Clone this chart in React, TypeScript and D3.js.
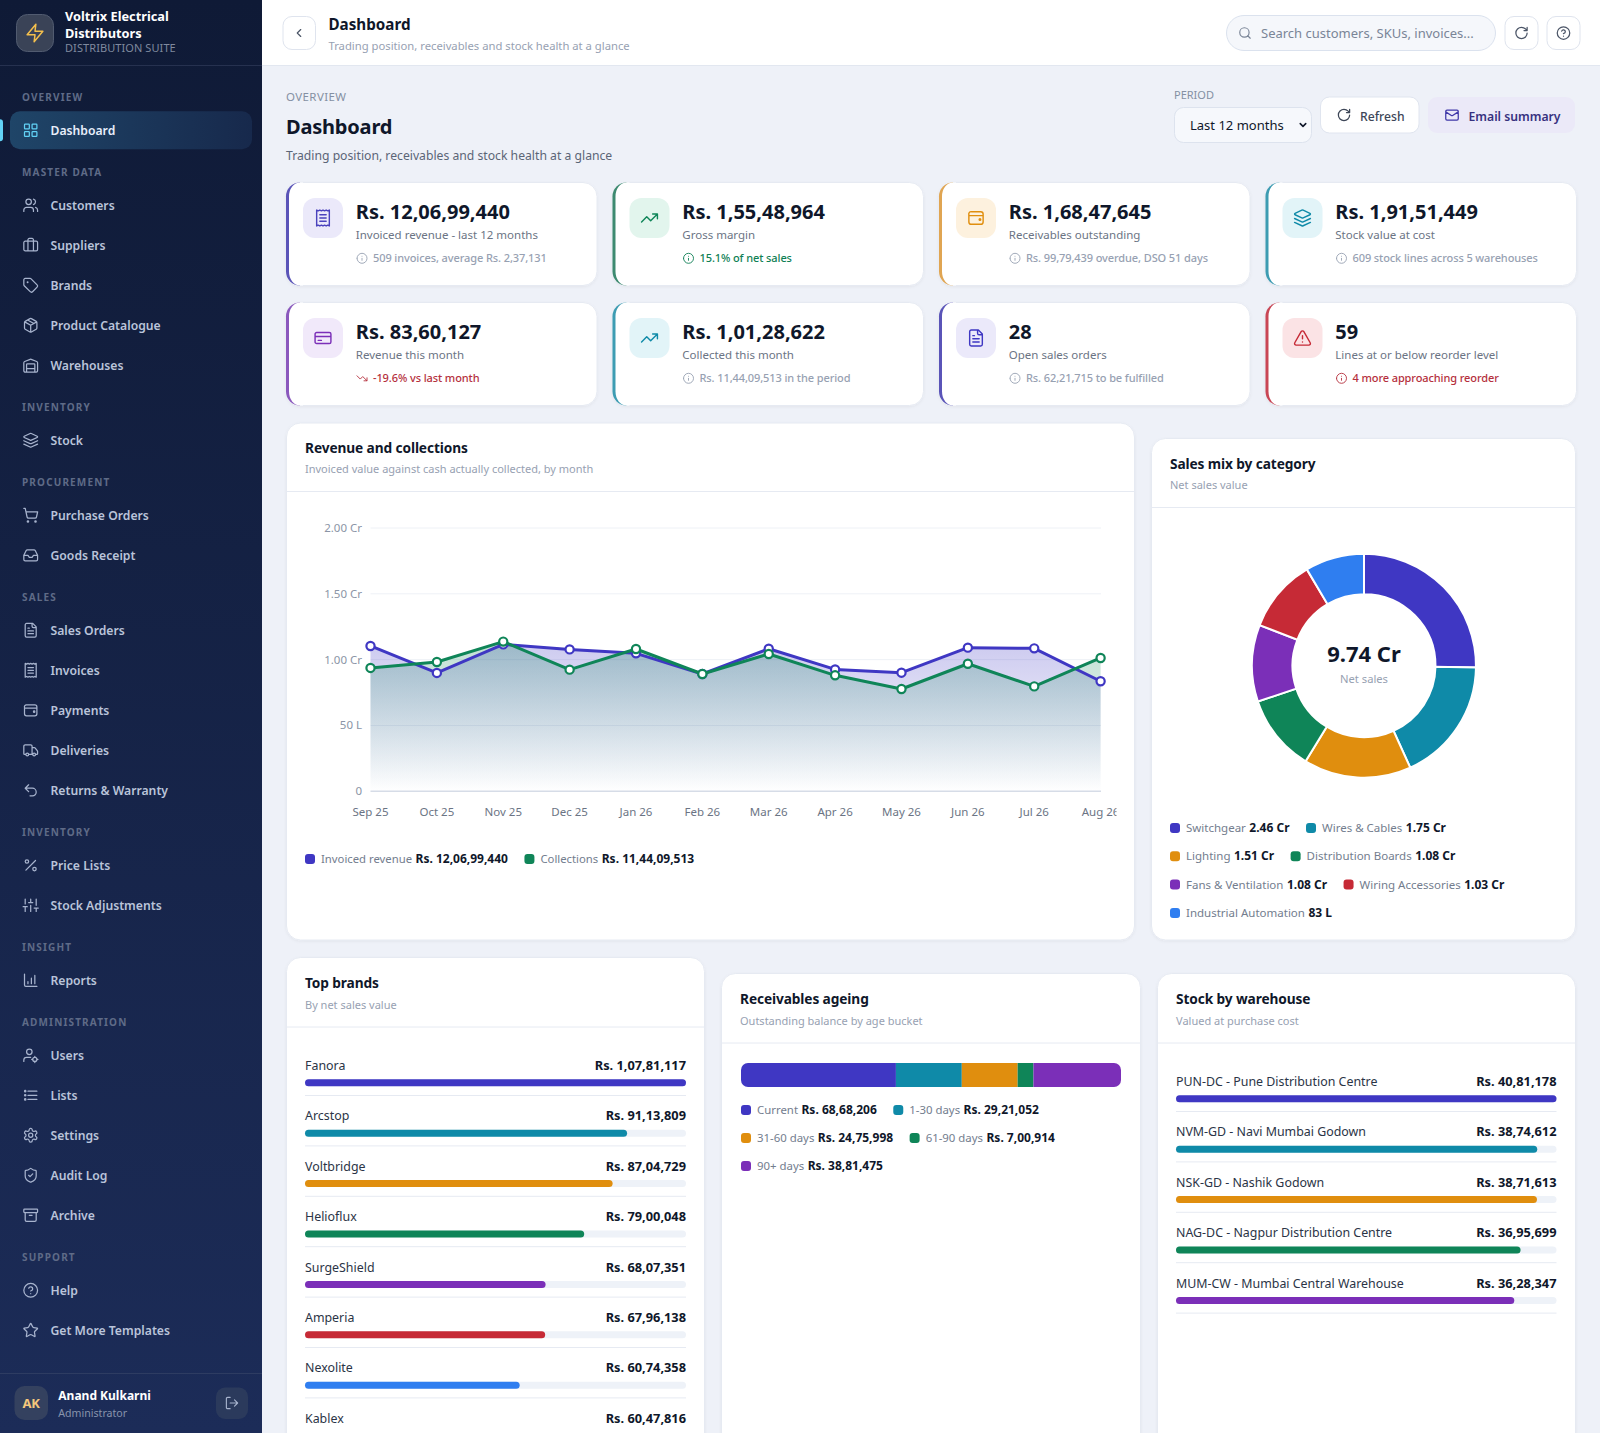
import React from "react";
import * as d3 from "d3";

// ---- data ----
const months = ["Sep 25", "Oct 25", "Nov 25", "Dec 25", "Jan 26", "Feb 26", "Mar 26", "Apr 26", "May 26", "Jun 26", "Jul 26", "Aug 26"];
const invoiced = [11040000, 8990000, 11160000, 10780000, 10480000, 8910000, 10830000, 9260000, 9010000, 10910000, 10860000, 8360127];
const collections = [9370000, 9820000, 11370000, 9240000, 10810000, 8910000, 10430000, 8810000, 7770000, 9690000, 7970000, 10128622];
const invoicedTotal = 120699440;
const collectionsTotal = 114409513;
const yTicks = [0, 5000000, 10000000, 15000000, 20000000];
const yTickLabels = ["0", "50 L", "1.00 Cr", "1.50 Cr", "2.00 Cr"];

const categoryNames = ["Switchgear", "Wires & Cables", "Lighting", "Distribution Boards", "Fans & Ventilation", "Wiring Accessories", "Industrial Automation"];
const categoryValues = [24600000, 17500000, 15100000, 10800000, 10800000, 10300000, 8300000];
const netSales = "9.74 Cr";

const brandNames = ["Fanora", "Arcstop", "Voltbridge", "Helioflux", "SurgeShield", "Amperia", "Nexolite", "Kablex"];
const brandValues = [10781117, 9113809, 8704729, 7900048, 6807351, 6796138, 6074358, 6047816];

const ageingNames = ["Current", "1-30 days", "31-60 days", "61-90 days", "90+ days"];
const ageingValues = [6868206, 2921052, 2475998, 700914, 3881475];

const warehouseNames = ["PUN-DC - Pune Distribution Centre", "NVM-GD - Navi Mumbai Godown", "NSK-GD - Nashik Godown", "NAG-DC - Nagpur Distribution Centre", "MUM-CW - Mumbai Central Warehouse"];
const warehouseValues = [4081178, 3874612, 3871613, 3695699, 3628347];

const kpiValues = ["Rs. 12,06,99,440", "Rs. 1,55,48,964", "Rs. 1,68,47,645", "Rs. 1,91,51,449", "Rs. 83,60,127", "Rs. 1,01,28,622", "28", "59"];
const kpiLabels = ["Invoiced revenue - last 12 months", "Gross margin", "Receivables outstanding", "Stock value at cost", "Revenue this month", "Collected this month", "Open sales orders", "Lines at or below reorder level"];
const kpiNotes = ["509 invoices, average Rs. 2,37,131", "15.1% of net sales", "Rs. 99,79,439 overdue, DSO 51 days", "609 stock lines across 5 warehouses", "-19.6% vs last month", "Rs. 11,44,09,513 in the period", "Rs. 62,21,715 to be fulfilled", "4 more approaching reorder"];

const navSections: [string, [string, string][]][] = [
  ["OVERVIEW", [["Dashboard", "grid"]]],
  ["MASTER DATA", [["Customers", "users"], ["Suppliers", "briefcase"], ["Brands", "tag"], ["Product Catalogue", "package"], ["Warehouses", "warehouse"]]],
  ["INVENTORY", [["Stock", "layers"]]],
  ["PROCUREMENT", [["Purchase Orders", "cart"], ["Goods Receipt", "inbox"]]],
  ["SALES", [["Sales Orders", "file"], ["Invoices", "receipt"], ["Payments", "wallet"], ["Deliveries", "truck"], ["Returns & Warranty", "undo"]]],
  ["INVENTORY", [["Price Lists", "percent"], ["Stock Adjustments", "sliders"]]],
  ["INSIGHT", [["Reports", "chart"]]],
  ["ADMINISTRATION", [["Users", "usercog"], ["Lists", "list"], ["Settings", "gear"], ["Audit Log", "shield"], ["Archive", "archive"]]],
  ["SUPPORT", [["Help", "help"], ["Get More Templates", "star"]]],
];

// ---- colours ----
const palette = ["#3f37c3", "#0f8aa8", "#e08e0e", "#0f8558", "#7b2fb8", "#c62a36", "#2f7ef0"];
const INK = "#0f172a";
const MUTED = "#97a1b2";
const LINE = "#e6eaf2";
const TRACK = "#eef2f8";
const NOTE_RED = "#b5303d";
const NOTE_GREEN = "#0f7f55";

const kpiStyles = [
  { accent: "#5a54b8", bg: "#ebe9fa", fg: "#4a42bd", icon: "receipt", note: MUTED, noteIcon: "info" },
  { accent: "#3d8a70", bg: "#e2f5ed", fg: "#0f8558", icon: "trendUp", note: NOTE_GREEN, noteIcon: "info" },
  { accent: "#e0a552", bg: "#fdf1de", fg: "#e08e0e", icon: "wallet", note: MUTED, noteIcon: "info" },
  { accent: "#3d9cb2", bg: "#e2f4f8", fg: "#0f8aa8", icon: "layers", note: MUTED, noteIcon: "info" },
  { accent: "#8a58bd", bg: "#f1e9fa", fg: "#7b2fb8", icon: "card", note: NOTE_RED, noteIcon: "trendDown" },
  { accent: "#3d9cb2", bg: "#e2f4f8", fg: "#0f8aa8", icon: "trendUp", note: MUTED, noteIcon: "info" },
  { accent: "#5a54b8", bg: "#ebe9fa", fg: "#3f37c3", icon: "file", note: MUTED, noteIcon: "info" },
  { accent: "#c94655", bg: "#fbe3e5", fg: "#c62a36", icon: "alert", note: NOTE_RED, noteIcon: "info" },
];

// ---- icons (24 unit stroke icons) ----
const ci = (cx: number, cy: number, r: number) => `M${cx - r} ${cy}a${r} ${r} 0 1 0 ${2 * r} 0a${r} ${r} 0 1 0 ${-2 * r} 0`;
const rr = (x: number, y: number, w: number, h: number, r: number) =>
  `M${x + r} ${y}h${w - 2 * r}a${r} ${r} 0 0 1 ${r} ${r}v${h - 2 * r}a${r} ${r} 0 0 1 ${-r} ${r}h${-(w - 2 * r)}a${r} ${r} 0 0 1 ${-r} ${-r}v${-(h - 2 * r)}a${r} ${r} 0 0 1 ${r} ${-r}z`;

const icons: Record<string, string> = {
  grid: rr(3, 3, 7, 7, 1) + rr(14, 3, 7, 7, 1) + rr(14, 14, 7, 7, 1) + rr(3, 14, 7, 7, 1),
  users: "M16 21v-2a4 4 0 0 0-4-4H6a4 4 0 0 0-4 4v2" + ci(9, 7, 4) + "M22 21v-2a4 4 0 0 0-3-3.87M16 3.13a4 4 0 0 1 0 7.75",
  briefcase: "M16 20V4a2 2 0 0 0-2-2h-4a2 2 0 0 0-2 2v16" + rr(2, 6, 20, 14, 2),
  tag: "M12.586 2.586A2 2 0 0 0 11.172 2H4a2 2 0 0 0-2 2v7.172a2 2 0 0 0 .586 1.414l8.704 8.704a2.426 2.426 0 0 0 3.42 0l6.58-6.58a2.426 2.426 0 0 0 0-3.42z" + ci(7.5, 7.5, 0.5),
  package: "M21 8a2 2 0 0 0-1-1.73l-7-4a2 2 0 0 0-2 0l-7 4A2 2 0 0 0 3 8v8a2 2 0 0 0 1 1.73l7 4a2 2 0 0 0 2 0l7-4A2 2 0 0 0 21 16ZM3.3 7l8.7 5 8.7-5M12 22V12M7.5 4.27l9 5.15",
  warehouse: "M22 8.35V20a2 2 0 0 1-2 2H4a2 2 0 0 1-2-2V8.35A2 2 0 0 1 3.26 6.5l8-3.2a2 2 0 0 1 1.48 0l8 3.2A2 2 0 0 1 22 8.35ZM6 17h12M6 22V11a1 1 0 0 1 1-1h10a1 1 0 0 1 1 1v11",
  layers: "M12.83 2.18a2 2 0 0 0-1.66 0L2.6 6.08a1 1 0 0 0 0 1.83l8.58 3.91a2 2 0 0 0 1.66 0l8.58-3.9a1 1 0 0 0 0-1.83ZM22 17.65l-9.17 4.16a2 2 0 0 1-1.66 0L2 17.65M22 12.65l-9.17 4.16a2 2 0 0 1-1.66 0L2 12.65",
  cart: ci(8, 21, 1) + ci(19, 21, 1) + "M2.05 2.05h2l2.66 12.42a2 2 0 0 0 2 1.58h9.78a2 2 0 0 0 1.95-1.57l1.65-7.43H5.12",
  inbox: "M22 12h-6l-2 3h-4l-2-3H2M5.45 5.11 2 12v6a2 2 0 0 0 2 2h16a2 2 0 0 0 2-2v-6l-3.45-6.89A2 2 0 0 0 16.76 4H7.24a2 2 0 0 0-1.79 1.11z",
  file: "M15 2H6a2 2 0 0 0-2 2v16a2 2 0 0 0 2 2h12a2 2 0 0 0 2-2V7ZM14 2v4a2 2 0 0 0 2 2h4M10 9H8M16 13H8M16 17H8",
  receipt: "M4 2v20l2-1 2 1 2-1 2 1 2-1 2 1 2-1 2 1V2l-2 1-2-1-2 1-2-1-2 1-2-1-2 1ZM16 8H8M16 12H8M16 16H8",
  wallet: "M3 8a3 3 0 0 1 3-4h12a3 3 0 0 1 3 3v10a3 3 0 0 1-3 3H6a3 3 0 0 1-3-3ZM3 9h18" + ci(17, 14, 1),
  truck: "M14 18V6a2 2 0 0 0-2-2H4a2 2 0 0 0-2 2v11a1 1 0 0 0 1 1h2M15 18H9M19 18h2a1 1 0 0 0 1-1v-3.65a1 1 0 0 0-.22-.624l-3.48-4.35A1 1 0 0 0 17.52 8H14" + ci(17, 18, 2) + ci(7, 18, 2),
  undo: "M9 14 4 9l5-5M4 9h10.5a5.5 5.5 0 0 1 5.5 5.5a5.5 5.5 0 0 1-5.5 5.5H11",
  percent: "M19 5 5 19" + ci(6.5, 6.5, 2.5) + ci(17.5, 17.5, 2.5),
  sliders: "M4 21v-7M4 10V3M12 21v-9M12 8V3M20 21v-5M20 12V3M1 14h6M9 8h6M17 16h6",
  chart: "M3 3v16a2 2 0 0 0 2 2h16M8 17v-3M13 17V9M18 17V5",
  usercog: ci(10, 7, 4) + "M2 21v-2a4 4 0 0 1 4-4h6" + ci(18, 18, 3) + "M18 13.5V15M18 21v1.5M13.5 18H15M21 18h1.5",
  list: "M8 6h13M8 12h13M8 18h13" + ci(4, 6, 1) + ci(4, 12, 1) + ci(4, 18, 1),
  gear: "M12.22 2h-.44a2 2 0 0 0-2 2v.18a2 2 0 0 1-1 1.73l-.43.25a2 2 0 0 1-2 0l-.15-.08a2 2 0 0 0-2.73.73l-.22.38a2 2 0 0 0 .73 2.73l.15.1a2 2 0 0 1 1 1.72v.51a2 2 0 0 1-1 1.74l-.15.09a2 2 0 0 0-.73 2.73l.22.38a2 2 0 0 0 2.73.73l.15-.08a2 2 0 0 1 2 0l.43.25a2 2 0 0 1 1 1.73V20a2 2 0 0 0 2 2h.44a2 2 0 0 0 2-2v-.18a2 2 0 0 1 1-1.73l.43-.25a2 2 0 0 1 2 0l.15.08a2 2 0 0 0 2.73-.73l.22-.39a2 2 0 0 0-.73-2.73l-.15-.08a2 2 0 0 1-1-1.74v-.5a2 2 0 0 1 1-1.74l.15-.09a2 2 0 0 0 .73-2.73l-.22-.38a2 2 0 0 0-2.73-.73l-.15.08a2 2 0 0 1-2 0l-.43-.25a2 2 0 0 1-1-1.73V4a2 2 0 0 0-2-2z" + ci(12, 12, 3),
  shield: "M20 13c0 5-3.5 7.5-7.66 8.95a1 1 0 0 1-.67-.01C7.5 20.5 4 18 4 13V6a1 1 0 0 1 1-1c2 0 4.5-1.2 6.24-2.72a1.17 1.17 0 0 1 1.52 0C14.51 3.81 17 5 19 5a1 1 0 0 1 1 1zM9 12l2 2 4-4",
  archive: rr(2, 3, 20, 5, 1) + "M4 8v11a2 2 0 0 0 2 2h12a2 2 0 0 0 2-2V8M10 12h4",
  help: ci(12, 12, 10) + "M9.09 9a3 3 0 0 1 5.83 1c0 2-3 3-3 3M12 17h.01",
  star: "M11.525 2.295a.53.53 0 0 1 .95 0l2.31 4.679a2.123 2.123 0 0 0 1.595 1.16l5.166.756a.53.53 0 0 1 .294.904l-3.736 3.638a2.123 2.123 0 0 0-.611 1.878l.882 5.14a.53.53 0 0 1-.771.56l-4.618-2.428a2.122 2.122 0 0 0-1.973 0L6.396 21.01a.53.53 0 0 1-.77-.56l.881-5.139a2.122 2.122 0 0 0-.611-1.879L2.16 9.795a.53.53 0 0 1 .294-.906l5.165-.755a2.122 2.122 0 0 0 1.597-1.16z",
  logout: "M9 21H5a2 2 0 0 1-2-2V5a2 2 0 0 1 2-2h4M16 17l5-5-5-5M21 12H9",
  zap: "M13 2 3 14h9l-1 8 10-12h-9l1-8z",
  back: "M15 18l-6-6 6-6",
  down: "M6 9l6 6 6-6",
  search: ci(11, 11, 8) + "M21 21l-4.3-4.3",
  refresh: "M21 12a9 9 0 1 1-9-9c2.52 0 4.93 1 6.74 2.74L21 8M21 3v5h-5",
  mail: rr(2, 4, 20, 16, 2) + "M22 7l-8.97 5.7a1.94 1.94 0 0 1-2.06 0L2 7",
  trendUp: "M22 7l-8.5 8.5-5-5L2 17M16 7h6v6",
  trendDown: "M22 17l-8.5-8.5-5 5L2 7M16 17h6v-6",
  card: rr(2, 5, 20, 14, 2) + "M2 10h20M6 15h4",
  alert: "M21.73 18l-8-14a2 2 0 0 0-3.48 0l-8 14A2 2 0 0 0 4 21h16a2 2 0 0 0 1.73-3M12 9v4M12 17h.01",
  info: ci(12, 12, 10) + "M12 16v-4M12 8h.01",
};

function Icon({ name, cx, cy, size, color, width = 2 }: { name: string; cx: number; cy: number; size: number; color: string; width?: number }) {
  const k = size / 24;
  return (
    <path
      d={icons[name]}
      transform={`translate(${cx - size / 2},${cy - size / 2}) scale(${k})`}
      fill="none"
      stroke={color}
      strokeWidth={width}
      strokeLinecap="round"
      strokeLinejoin="round"
    />
  );
}

// ---- helpers ----
const FONT = "'Noto Sans'";

const ctx = document.createElement("canvas").getContext("2d")!;
function textWidth(s: string, size: number, weight: number) {
  ctx.font = `${weight} ${size}px ${FONT}`;
  return ctx.measureText(s).width;
}

function inr(v: number) {
  const s = String(Math.round(v));
  if (s.length <= 3) return "Rs. " + s;
  const head = s.slice(0, -3).replace(/\B(?=(\d{2})+(?!\d))/g, ",");
  return "Rs. " + head + "," + s.slice(-3);
}

function crore(v: number) {
  return v >= 10000000 ? `${(v / 10000000).toFixed(2)} Cr` : `${Math.round(v / 100000)} L`;
}

function Card({ x, y, w, h }: { x: number; y: number; w: number; h: number }) {
  return <rect x={x} y={y} width={w} height={h} rx={14} fill="#fff" stroke={LINE} filter="url(#cardShadow)" />;
}

function CardHead({ x, y, w, title, sub }: { x: number; y: number; w: number; title: string; sub: string }) {
  return (
    <g>
      <text x={x + 18.5} y={y + 30} fontSize={13.7} fontWeight={700} letterSpacing={-0.1} fill={INK}>{title}</text>
      <text x={x + 18.5} y={y + 50.5} fontSize={11} fill={MUTED}>{sub}</text>
      <line x1={x} x2={x + w} y1={y + 69} y2={y + 69} stroke={LINE} />
    </g>
  );
}

// legend that wraps like the flex rows in the reference
function Legend({ items, x, y, maxW, rowH, size = 11.3 }: { items: { label: string; value: string; color: string }[]; x: number; y: number; maxW: number; rowH: number; size?: number }) {
  let cx = x;
  let cy = y;
  return (
    <g>
      {items.map((it, i) => {
        const w = 16 + textWidth(it.label, size, 400) + 3.5 + textWidth(it.value, 12, 700);
        if (cx > x && cx + w > x + maxW) {
          cx = x;
          cy += rowH;
        }
        const px = cx;
        cx += w + 16.5;
        return (
          <g key={i}>
            <rect x={px} y={cy - 9} width={10} height={10} rx={3} fill={it.color} />
            <text x={px + 16} y={cy} fontSize={size} fill="#737d8e">
              {it.label}
              <tspan dx={3.5} fontSize={12} fontWeight={700} fill={INK}>{it.value}</tspan>
            </text>
          </g>
        );
      })}
    </g>
  );
}

function BarList({ names, values, x, w, y }: { names: string[]; values: number[]; x: number; w: number; y: number }) {
  const sx = d3.scaleLinear().domain([0, d3.max(values)!]).range([0, w]);
  const pitch = 50.4;
  return (
    <g>
      {names.map((n, i) => {
        const base = y + i * pitch;
        return (
          <g key={n}>
            <text x={x} y={base} fontSize={12.4} fill="#2b3446">{n}</text>
            <text x={x + w} y={base} fontSize={12.8} fontWeight={700} fill={INK} textAnchor="end">{inr(values[i])}</text>
            <rect x={x} y={base + 9.3} width={w} height={7} rx={3.5} fill={TRACK} />
            <rect x={x} y={base + 9.3} width={sx(values[i])} height={7} rx={3.5} fill={palette[i % palette.length]} />
            <line x1={x} x2={x + w} y1={base + 25.5} y2={base + 25.5} stroke={LINE} />
          </g>
        );
      })}
    </g>
  );
}

function Sidebar() {
  let label = 100.7;
  const rows: React.ReactNode[] = [];
  navSections.forEach(([section, items], si) => {
    rows.push(
      <text key={"s" + si} x={22} y={label} fontSize={10} fontWeight={700} letterSpacing={1.15} fill="#5f6b87">{section}</text>
    );
    let cy = label + 29.6;
    items.forEach(([name, icon]) => {
      const active = name === "Dashboard";
      if (active) {
        rows.push(
          <g key="active">
            <rect x={10} y={cy - 19} width={242} height={38} rx={10} fill="url(#navActive)" />
            <rect x={-3} y={cy - 11} width={6} height={22} rx={3} fill="#62d2f6" />
          </g>
        );
      }
      rows.push(
        <g key={name}>
          <Icon name={icon} cx={30.7} cy={cy} size={16.5} color={active ? "#62d2f6" : "#a8b4ce"} width={1.8} />
          <text x={50.5} y={cy + 4.5} fontSize={12.2} fontWeight={600} fill={active ? "#e8eefb" : "#bac4da"}>{name}</text>
        </g>
      );
      cy += 40;
    });
    label = cy - 40 + 45.4;
  });
  return (
    <g>
      <rect x={0} y={0} width={262} height={1433} fill="url(#sideBg)" />
      <rect x={16.5} y={14.5} width={37} height={37} rx={11} fill="#3a4357" stroke="#515b70" />
      <Icon name="zap" cx={35} cy={33} size={21} color="#f3bf4d" width={1.7} />
      <text x={65} y={20.7} fontSize={12.75} fontWeight={700} fill="#fff">Voltrix Electrical</text>
      <text x={65} y={37.7} fontSize={12.75} fontWeight={700} fill="#fff">Distributors</text>
      <text x={65} y={52} fontSize={11} letterSpacing={0.08} fill="#7f899e">DISTRIBUTION SUITE</text>
      <line x1={0} x2={262} y1={65.5} y2={65.5} stroke="#26314f" />
      {rows}
      <line x1={0} x2={262} y1={1373.5} y2={1373.5} stroke="#2e3c62" />
      <rect x={14.5} y={1386} width={33.5} height={34} rx={10} fill="#34415f" />
      <text x={31.2} y={1408} fontSize={13} fontWeight={700} fill="#f4c77c" textAnchor="middle">AK</text>
      <text x={58.3} y={1400} fontSize={12} fontWeight={700} fill="#fff">Anand Kulkarni</text>
      <text x={58.3} y={1416.5} fontSize={10.6} fill="#8894ac">Administrator</text>
      <rect x={216} y={1387.5} width={32} height={31.5} rx={9} fill="#2b3a5c" />
      <Icon name="logout" cx={232} cy={1403} size={15} color="#a8b4ce" width={1.8} />
    </g>
  );
}

function TopBar() {
  return (
    <g>
      <rect x={262} y={0} width={1338} height={65} fill="#fff" />
      <line x1={262} x2={1600} y1={65.5} y2={65.5} stroke="#e2e7f0" />
      <rect x={283} y={16.5} width={32.5} height={33} rx={9} fill="#fff" stroke="#dfe4ee" />
      <Icon name="back" cx={299} cy={33} size={14} color="#4b5567" />
      <text x={328.5} y={29.5} fontSize={15.2} fontWeight={700} fill={INK}>Dashboard</text>
      <text x={328.5} y={50} fontSize={11.25} fill={MUTED}>Trading position, receivables and stock health at a glance</text>
      <rect x={1226.5} y={15.5} width={269} height={35} rx={17.5} fill="#f5f7fb" stroke="#dbe2ee" />
      <Icon name="search" cx={1245} cy={33} size={14} color="#7a8597" />
      <text x={1261} y={37.5} fontSize={13} fill="#7a8597">Search customers, SKUs, invoices...</text>
      <rect x={1505} y={16.5} width={33} height={33} rx={9} fill="#fff" stroke="#dfe4ee" />
      <Icon name="refresh" cx={1521.5} cy={33} size={15} color="#4b5567" />
      <rect x={1547} y={16.5} width={33} height={33} rx={9} fill="#fff" stroke="#dfe4ee" />
      <Icon name="help" cx={1563.5} cy={33} size={15} color="#4b5567" />
    </g>
  );
}

function PageHead() {
  return (
    <g>
      <text x={286} y={101} fontSize={11.5} letterSpacing={0.4} fill="#8490a3">OVERVIEW</text>
      <text x={286} y={134} fontSize={20} fontWeight={700} letterSpacing={-0.2} fill={INK}>Dashboard</text>
      <text x={286} y={160} fontSize={12.2} fill="#5b6577">Trading position, receivables and stock health at a glance</text>

      <text x={1174} y={99} fontSize={11} fill="#8490a3">PERIOD</text>
      <rect x={1174.5} y={107.5} width={137} height={35} rx={9} fill="#f6f8fc" stroke="#dde3ee" />
      <text x={1190} y={130} fontSize={13} fill={INK}>Last 12 months</text>
      <Icon name="down" cx={1303} cy={125} size={11} color={INK} width={3.4} />

      <rect x={1320.5} y={97} width={98.5} height={36} rx={9} fill="#fff" stroke="#e0e5ef" />
      <Icon name="refresh" cx={1344} cy={115} size={15} color="#3d4657" />
      <text x={1360} y={120.5} fontSize={12.2} fontWeight={500} fill="#3d4657">Refresh</text>

      <rect x={1428} y={97} width={147} height={36} rx={9} fill="#ebe9f8" />
      <Icon name="mail" cx={1452} cy={115} size={15} color="#3f37a8" />
      <text x={1468.5} y={120.5} fontSize={12.2} fontWeight={600} fill="#37317f">Email summary</text>
    </g>
  );
}

function KpiCards() {
  const xs = d3.range(4).map((i) => 286 + i * 326.5);
  const ys = [182.5, 302.5];
  const w = 311;
  const h = 103;
  return (
    <g>
      {kpiValues.map((v, i) => {
        const x = xs[i % 4];
        const y = ys[Math.floor(i / 4)];
        const st = kpiStyles[i];
        return (
          <g key={i}>
            <Card x={x} y={y} w={w} h={h} />
            <path d={`M${x + 14} ${y}A14 14 0 0 0 ${x} ${y + 14}V${y + h - 14}A14 14 0 0 0 ${x + 14} ${y + h}Z`} fill={st.accent} />
            <path d={`M${x + 14} ${y}A11 14 0 0 0 ${x + 3} ${y + 14}V${y + h - 14}A11 14 0 0 0 ${x + 14} ${y + h}H${x + 17}V${y}Z`} fill="#fff" />
            <rect x={x + 17} y={y + 15.5} width={40} height={40} rx={12} fill={st.bg} />
            <Icon name={st.icon} cx={x + 37} cy={y + 35.5} size={19} color={st.fg} width={1.8} />
            <text x={x + 69.8} y={y + 36} fontSize={20} fontWeight={700} fill={INK}>{v}</text>
            <text x={x + 69.8} y={y + 56} fontSize={11.5} fill="#6b7484">{kpiLabels[i]}</text>
            <Icon name={st.noteIcon} cx={x + 76} cy={y + 75.8} size={12} color={st.note} width={1.8} />
            <text x={x + 87} y={y + 79.5} fontSize={11} fontWeight={500} letterSpacing={-0.1} fill={st.note}>{kpiNotes[i]}</text>
          </g>
        );
      })}
    </g>
  );
}

function RevenueCard() {
  const x = 286.5;
  const y = 423;
  const w = 848;
  const h = 517;
  const sx = d3.scalePoint<string>().domain(months).range([370.5, 1100.6]);
  const sy = d3.scaleLinear().domain([0, 20000000]).range([791.3, 528]);
  const line = d3.line<number>().x((_, i) => sx(months[i])!).y((d) => sy(d));
  const area = d3.area<number>().x((_, i) => sx(months[i])!).y0(sy(0)).y1((d) => sy(d));
  const series = [
    { values: invoiced, color: palette[0], grad: "areaIndigo" },
    { values: collections, color: palette[3], grad: "areaGreen" },
  ];
  return (
    <g>
      <Card x={x} y={y} w={w} h={h} />
      <CardHead x={x} y={y - 0.5} w={w} title="Revenue and collections" sub="Invoiced value against cash actually collected, by month" />
      {yTicks.map((t, i) => (
        <g key={t}>
          <line x1={370.5} x2={1101} y1={sy(t)} y2={sy(t)} stroke={t === 0 ? "#d6dce7" : "#eef1f6"} strokeWidth={t === 0 ? 1.5 : 1} />
          <text x={362} y={sy(t) + 4} fontSize={11.5} fill="#8b95a6" textAnchor="end">{yTickLabels[i]}</text>
        </g>
      ))}
      {series.map((s) => (
        <path key={s.grad} d={area(s.values)!} fill={`url(#${s.grad})`} />
      ))}
      {series.map((s) => (
        <g key={s.color}>
          <path d={line(s.values)!} fill="none" stroke={s.color} strokeWidth={3} strokeLinejoin="round" />
          {s.values.map((v, i) => (
            <circle key={i} cx={sx(months[i])} cy={sy(v)} r={4.1} fill="#fff" stroke={s.color} strokeWidth={2.2} />
          ))}
        </g>
      ))}
      <g clipPath="url(#axisClip)">
        {months.map((m) => (
          <text key={m} x={sx(m)} y={816} fontSize={11.5} fill="#6b7484" textAnchor="middle">{m}</text>
        ))}
      </g>
      <Legend
        x={305}
        y={863}
        maxW={810}
        rowH={28}
        items={[
          { label: "Invoiced revenue", value: inr(invoicedTotal), color: palette[0] },
          { label: "Collections", value: inr(collectionsTotal), color: palette[3] },
        ]}
      />
    </g>
  );
}

function SalesMixCard() {
  const x = 1151.5;
  const y = 438.5;
  const w = 424;
  const h = 501.5;
  const pie = d3.pie<number>().sort(null).value((d) => d);
  const arc = d3.arc<d3.PieArcDatum<number>>().innerRadius(71.5).outerRadius(112);
  return (
    <g>
      <Card x={x} y={y} w={w} h={h} />
      <CardHead x={x} y={y} w={w} title="Sales mix by category" sub="Net sales value" />
      <g transform="translate(1364,665.7)">
        {pie(categoryValues).map((d, i) => (
          <path key={i} d={arc(d)!} fill={palette[i]} stroke="#fff" strokeWidth={2} />
        ))}
        <text y={-4} fontSize={22} fontWeight={700} fill={INK} textAnchor="middle">{netSales}</text>
        <text y={17} fontSize={11.2} fill={MUTED} textAnchor="middle">Net sales</text>
      </g>
      <Legend
        x={1170}
        y={832}
        maxW={388}
        rowH={28.3}
        size={11.5}
        items={categoryNames.map((n, i) => ({ label: n, value: crore(categoryValues[i]), color: palette[i] }))}
      />
    </g>
  );
}

function AgeingCard() {
  const x = 721.5;
  const y = 973.5;
  const w = 419;
  const barX = 741;
  const barW = 380;
  const total = d3.sum(ageingValues);
  const sx = d3.scaleLinear().domain([0, total]).range([barX, barX + barW]);
  const ends = Array.from(d3.cumsum(ageingValues));
  return (
    <g>
      <Card x={x} y={y} w={w} h={520} />
      <CardHead x={x} y={y + 0.5} w={w} title="Receivables ageing" sub="Outstanding balance by age bucket" />
      <g clipPath="url(#ageClip)">
        {ageingValues.map((v, i) => (
          <rect key={i} x={sx(ends[i] - v)} y={1063} width={sx(ends[i]) - sx(ends[i] - v)} height={24} fill={palette[i]} />
        ))}
      </g>
      <Legend
        x={741}
        y={1114}
        maxW={380}
        rowH={28}
        size={11.4}
        items={ageingNames.map((n, i) => ({ label: n, value: inr(ageingValues[i]), color: palette[i] }))}
      />
    </g>
  );
}

export default function App() {
  return (
    <svg
      width={1600}
      height={1433}
      viewBox="0 0 1600 1433"
      style={{ position: "absolute", left: 0, top: 0, display: "block", fontFamily: FONT, background: "#eef1f8" }}
    >
      <defs>
        <linearGradient id="sideBg" x1="0" y1="0" x2="0" y2="1">
          <stop offset="0" stopColor="#0f1a36" />
          <stop offset="1" stopColor="#1c2c58" />
        </linearGradient>
        <linearGradient id="navActive" x1="0" y1="0" x2="1" y2="0">
          <stop offset="0" stopColor="#1f4568" />
          <stop offset="1" stopColor="#17294c" />
        </linearGradient>
        <linearGradient id="areaIndigo" x1="0" y1="0" x2="0" y2="1">
          <stop offset="0" stopColor={palette[0]} stopOpacity={0.26} />
          <stop offset="1" stopColor={palette[0]} stopOpacity={0} />
        </linearGradient>
        <linearGradient id="areaGreen" x1="0" y1="0" x2="0" y2="1">
          <stop offset="0" stopColor={palette[3]} stopOpacity={0.26} />
          <stop offset="1" stopColor={palette[3]} stopOpacity={0} />
        </linearGradient>
        <filter id="cardShadow" x="-5%" y="-5%" width="110%" height="110%">
          <feDropShadow dx={0} dy={1} stdDeviation={1.5} floodColor="#0f172a" floodOpacity={0.05} />
        </filter>
        <clipPath id="axisClip">
          <rect x={300} y={795} width={816.5} height={30} />
        </clipPath>
        <clipPath id="ageClip">
          <rect x={741} y={1063} width={380} height={24} rx={7} />
        </clipPath>
        <clipPath id="brandClip">
          <rect x={286} y={950} width={420} height={482} />
        </clipPath>
      </defs>
      <TopBar />
      <PageHead />
      <KpiCards />
      <RevenueCard />
      <SalesMixCard />
      <g>
        <Card x={286.5} y={957.5} w={418} h={520} />
        <CardHead x={286.5} y={958} w={418} title="Top brands" sub="By net sales value" />
        <g clipPath="url(#brandClip)">
          <BarList names={brandNames} values={brandValues} x={305} w={381} y={1070} />
        </g>
      </g>
      <AgeingCard />
      <g>
        <Card x={1157.5} y={973.5} w={418} h={520} />
        <CardHead x={1157.5} y={974} w={418} title="Stock by warehouse" sub="Valued at purchase cost" />
        <BarList names={warehouseNames} values={warehouseValues} x={1176} w={380.5} y={1086} />
      </g>
      <Sidebar />
    </svg>
  );
}
